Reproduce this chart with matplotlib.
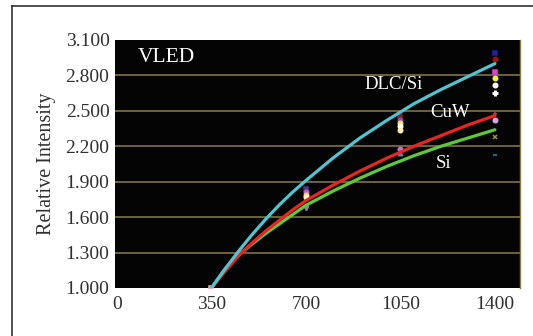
import matplotlib
matplotlib.use("Agg")
import matplotlib.pyplot as plt
from matplotlib.lines import Line2D

# fitted curves
x_fit = [350, 375, 400, 450, 500, 550, 600, 650, 700, 800, 900, 1000, 1100, 1200, 1300, 1400]
dlc_si = [1.00, 1.08, 1.16, 1.31, 1.45, 1.58, 1.70, 1.81, 1.91, 2.10, 2.27, 2.42, 2.56, 2.68, 2.79, 2.90]
cuw = [1.00, 1.07, 1.14, 1.27, 1.38, 1.48, 1.57, 1.66, 1.74, 1.87, 1.99, 2.10, 2.20, 2.29, 2.38, 2.46]
si = [1.00, 1.08, 1.16, 1.28, 1.37, 1.46, 1.54, 1.62, 1.70, 1.82, 1.93, 2.03, 2.12, 2.20, 2.27, 2.34]

# measured points (clusters)
pts_x = [350,
         700, 700, 700, 700, 700,
         1050, 1050, 1050, 1050, 1050, 1050, 1050,
         1400, 1400, 1400, 1400, 1400, 1400, 1400, 1400, 1400, 1400]
pts_y = [1.00,
         1.84, 1.81, 1.79, 1.77, 1.68,
         2.46, 2.42, 2.40, 2.37, 2.34, 2.18, 2.14,
         2.99, 2.94, 2.83, 2.78, 2.72, 2.65, 2.47, 2.42, 2.28, 2.13]
pts_c = ['#e8b0c8',
         '#503090', '#c060c0', '#f0e060', '#fff8d0', '#a070b0',
         '#802030', '#9050a0', '#f0e070', '#ffffff', '#fff0b0', '#c070c0', '#6080a0',
         '#2020a0', '#a01010', '#e040e0', '#f0f040', '#fffff0', '#ffffff', '#b04040', '#e0a0e0', '#a09040', '#3080c0']
pts_m = ['s',
         's', 'o', 'o', 'o', 'v',
         's', 'o', 'o', 'o', 'o', 'o', '^',
         's', 'o', 's', 'o', 'o', 'P', '+', 'o', 'x', '_']

y_ticks = [1.0, 1.3, 1.6, 1.9, 2.2, 2.5, 2.8, 3.1]
x_ticks = [0, 350, 700, 1050, 1400]

fig = plt.figure(figsize=(5.33, 3.36), dpi=100)
ax = fig.add_axes([115 / 533, 48 / 336, 405 / 533, 248 / 336])
ax.set_facecolor('#040404')

for y in y_ticks[1:-1]:
    ax.axhline(y, color='#8a7d45', lw=1.1, zorder=1)

for xx, yy, cc, mm in zip(pts_x, pts_y, pts_c, pts_m):
    ax.plot(xx, yy, marker=mm, color=cc, ms=3.2, mew=1.1, zorder=2)

ax.plot(x_fit, si, color='#5ec83a', lw=2.3, zorder=3, solid_capstyle='round')
ax.plot(x_fit, cuw, color='#e82424', lw=2.3, zorder=4, solid_capstyle='round')
ax.plot(x_fit, dlc_si, color='#52c4d0', lw=2.3, zorder=5, solid_capstyle='round')

serif = 'Liberation Serif'
ax.text(78, 2.956, 'VLED', color='white', fontsize=15.5, family=serif, va='center')
ax.text(918, 2.719, 'DLC/Si', color='white', fontsize=13.5, family=serif, va='center')
ax.text(1159, 2.49, 'CuW', color='white', fontsize=13.5, family=serif, va='center')
ax.text(1181, 2.058, 'Si', color='white', fontsize=13.5, family=serif, va='center')

ax.set_xlim(-7, 1493)
ax.set_ylim(1.0, 3.1)
ax.set_xticks(x_ticks)
ax.set_yticks(y_ticks)
ax.set_yticklabels(['%.3f' % v for v in y_ticks])
ax.tick_params(length=0, labelsize=14, labelcolor='#303030', pad=4)
ax.tick_params(axis='x', pad=6)
for lab in ax.get_xticklabels() + ax.get_yticklabels():
    lab.set_family(serif)
ax.set_ylabel('Relative Intensity', family=serif, fontsize=14.5, color='#303030', labelpad=7)

for s in ['top', 'left', 'bottom']:
    ax.spines[s].set_visible(False)
ax.spines['right'].set_color('#8a7d45')
ax.spines['right'].set_linewidth(1.0)

# frame around the figure (only top and left edges are in view)
fx = 11.5 / 533
fy = 1 - 5.5 / 336
fig.add_artist(Line2D([fx, fx], [0, fy], transform=fig.transFigure, color='#303030', lw=1.2))
fig.add_artist(Line2D([fx, 1], [fy, fy], transform=fig.transFigure, color='#303030', lw=1.2))

fig.savefig('out.png', dpi=100)
